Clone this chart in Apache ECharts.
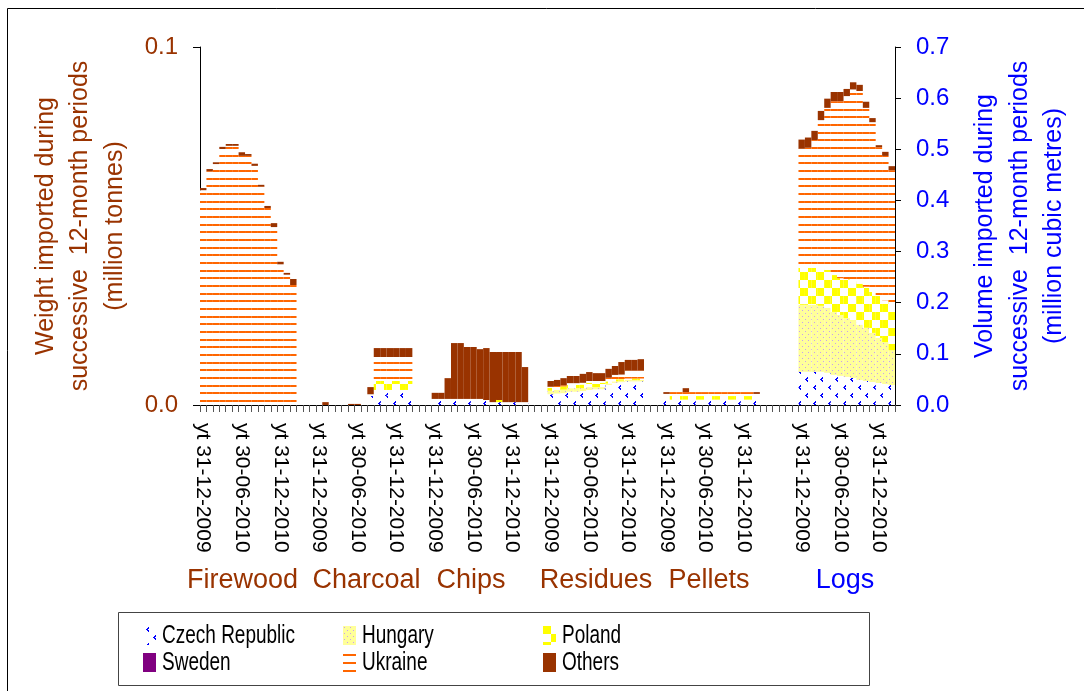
<!DOCTYPE html>
<html>
<head>
<meta charset="utf-8">
<title>Wood imports, successive 12-month periods</title>
<script src="https://cdn.jsdelivr.net/npm/echarts@6/dist/echarts.min.js"></script>
<style>
  html, body { margin: 0; padding: 0; background: #ffffff; }
  #chart { width: 1084px; height: 691px; }
</style>
</head>
<body>
<div id="chart"></div>
<script>
// ---- Categories -------------------------------------------------------
const products = ['Firewood', 'Charcoal', 'Chips', 'Residues', 'Pellets', 'Logs'];
const productUnit = ['weight', 'weight', 'weight', 'weight', 'weight', 'volume'];
const months = ['31-12-2009', '31-01-2010', '28-02-2010', '31-03-2010', '30-04-2010',
  '31-05-2010', '30-06-2010', '31-07-2010', '31-08-2010', '30-09-2010', '31-10-2010',
  '30-11-2010', '31-12-2010', '31-01-2011', '28-02-2011'];
const tickMonths = ['31-12-2009', '30-06-2010', '31-12-2010'];
const countries = ['Czech Republic', 'Hungary', 'Poland', 'Sweden', 'Ukraine', 'Others'];

// ---- Values: million tonnes (weight) / million m3 (Logs) ----------------
const firewoodUkraine = [0.0600, 0.0653, 0.0673, 0.0715, 0.0724, 0.0724, 0.0696, 0.0696, 0.0668, 0.0610, 0.0550, 0.0497, 0.0393, 0.0364, 0.0335];
const firewoodOthers  = [0.0006, 0.0006, 0.0005, 0.0006, 0.0005, 0.0005, 0.0010, 0.0005, 0.0006, 0.0005, 0.0006, 0.0011, 0.0007, 0.0005, 0.0017];

const charcoalCzech   = [0, 0, 0, 0, 0, 0, 0, 0, 0.0025, 0.0042, 0.0042, 0.0042, 0.0042, 0.0042, 0.0042];
const charcoalPoland  = [0, 0, 0, 0, 0, 0, 0, 0, 0, 0.0025, 0.0025, 0.0025, 0.0025, 0.0025, 0.0025];
const charcoalUkraine = [0, 0, 0, 0, 0, 0, 0, 0, 0.0005, 0.0067, 0.0067, 0.0067, 0.0067, 0.0067, 0.0067];
const charcoalOthers  = [0, 0.0008, 0, 0, 0, 0.0003, 0.0003, 0, 0.0020, 0.0025, 0.0025, 0.0025, 0.0025, 0.0025, 0.0025];

const chipsCzech  = [0.0017, 0.0017, 0.0017, 0.0017, 0.0017, 0.0017, 0.0017, 0.0017, 0.0014, 0.0008, 0.0008, 0.0008, 0.0008, 0.0008, 0.0008];
const chipsPoland = [0, 0, 0, 0, 0, 0, 0, 0, 0, 0, 0.0006, 0, 0, 0, 0];
const chipsOthers = [0.0017, 0.0017, 0.0058, 0.0156, 0.0156, 0.0145, 0.0145, 0.0139, 0.0145, 0.0140, 0.0134, 0.0140, 0.0140, 0.0140, 0.0098];

const residuesCzech   = [0.0030, 0.0032, 0.0033, 0.0037, 0.0037, 0.0039, 0.0042, 0.0044, 0.0044, 0.0056, 0.0062, 0.0064, 0.0066, 0.0066, 0.0066];
const residuesHungary = [0.0010, 0.0010, 0.0010, 0.0010, 0.0010, 0.0008, 0.0008, 0.0006, 0.0006, 0.0004, 0.0004, 0.0004, 0.0004, 0.0004, 0.0004];
const residuesPoland  = [0.0008, 0.0008, 0.0009, 0.0009, 0.0009, 0.0010, 0.0012, 0.0012, 0.0012, 0.0006, 0.0006, 0.0004, 0.0004, 0.0004, 0.0004];
const residuesUkraine = [0.0003, 0.0003, 0.0003, 0.0005, 0.0005, 0.0005, 0.0005, 0.0005, 0.0005, 0.0010, 0.0012, 0.0013, 0.0022, 0.0022, 0.0022];
const residuesOthers  = [0.0016, 0.0017, 0.0020, 0.0020, 0.0020, 0.0025, 0.0025, 0.0022, 0.0022, 0.0025, 0.0025, 0.0035, 0.0030, 0.0030, 0.0032];

const pelletsCzech   = [0.0031, 0.0015, 0.0015, 0.0015, 0.0015, 0.0015, 0.0015, 0.0015, 0.0015, 0.0015, 0.0015, 0.0015, 0.0015, 0.0015, 0.0015];
const pelletsPoland  = [0, 0.0010, 0.0010, 0.0010, 0.0010, 0.0010, 0.0010, 0.0010, 0.0010, 0.0010, 0.0010, 0.0010, 0.0010, 0.0010, 0.0008];
const pelletsUkraine = [0, 0.0011, 0.0011, 0.0011, 0.0011, 0.0011, 0.0011, 0.0011, 0.0011, 0.0011, 0.0011, 0.0011, 0.0011, 0.0011, 0.0008];
const pelletsOthers  = [0.0005, 0, 0, 0.0011, 0, 0, 0, 0, 0, 0, 0, 0, 0, 0, 0.0005];

const logsCzech   = [0.065, 0.065, 0.065, 0.065, 0.063, 0.059, 0.057, 0.055, 0.053, 0.049, 0.047, 0.045, 0.043, 0.041, 0.039];
const logsHungary = [0.131, 0.131, 0.131, 0.129, 0.127, 0.123, 0.119, 0.115, 0.113, 0.108, 0.104, 0.096, 0.088, 0.082, 0.068];
const logsPoland  = [0.072, 0.072, 0.072, 0.072, 0.074, 0.072, 0.072, 0.076, 0.076, 0.080, 0.080, 0.080, 0.082, 0.082, 0.090];
const logsUkraine = [0.233, 0.235, 0.250, 0.291, 0.317, 0.340, 0.346, 0.358, 0.375, 0.377, 0.350, 0.332, 0.291, 0.282, 0.262];
const logsOthers  = [0.018, 0.020, 0.018, 0.018, 0.018, 0.018, 0.018, 0.014, 0.014, 0.012, 0.012, 0.008, 0.004, 0.008, 0.008];

// product -> country -> 15 monthly values (countries not listed have none)
const table = {
  Firewood: { 'Ukraine': firewoodUkraine, 'Others': firewoodOthers },
  Charcoal: { 'Czech Republic': charcoalCzech, 'Poland': charcoalPoland, 'Ukraine': charcoalUkraine, 'Others': charcoalOthers },
  Chips:    { 'Czech Republic': chipsCzech, 'Poland': chipsPoland, 'Others': chipsOthers },
  Residues: { 'Czech Republic': residuesCzech, 'Hungary': residuesHungary, 'Poland': residuesPoland, 'Ukraine': residuesUkraine, 'Others': residuesOthers },
  Pellets:  { 'Czech Republic': pelletsCzech, 'Poland': pelletsPoland, 'Ukraine': pelletsUkraine, 'Others': pelletsOthers },
  Logs:     { 'Czech Republic': logsCzech, 'Hungary': logsHungary, 'Poland': logsPoland, 'Ukraine': logsUkraine, 'Others': logsOthers }
};

// empty category slots placed after each product block
const gapAfter = [3, 3, 3, 3, 6, 0];

// ---- Build the shared category axis -------------------------------------
const categories = [];
const tickLabels = [];
const slots = [];   // {product, month} or null for spacer slots
products.forEach((p, pi) => {
  months.forEach((m, mi) => {
    categories.push(p + ' ' + m);
    tickLabels.push(tickMonths.includes(m) ? 'yt ' + m : '');
    slots.push({ product: p, month: mi });
  });
  for (let g = 0; g < gapAfter[pi]; g++) {
    categories.push('spacer ' + pi + '-' + g);
    tickLabels.push('');
    slots.push(null);
  }
});

// ---- Fill patterns ------------------------------------------------------
function tile(w, h, bg, draw) {
  const c = document.createElement('canvas');
  c.width = w; c.height = h;
  const g = c.getContext('2d');
  g.fillStyle = bg; g.fillRect(0, 0, w, h);
  draw(g);
  return { image: c, repeat: 'repeat' };
}
const fills = {
  'Czech Republic': tile(15, 16, '#ffffff', g => {
    g.fillStyle = '#0000ff';
    const mark = (x, y) => {
      g.fillRect(x + 2, y, 1, 1); g.fillRect(x + 1, y + 1, 2, 1);
      g.fillRect(x, y + 2, 2, 1); g.fillRect(x + 1, y + 3, 2, 1); g.fillRect(x + 2, y + 4, 1, 1);
    };
    mark(3, 1); mark(10, 9);
  }),
  'Hungary': tile(6, 6, '#ffff99', g => {
    g.fillStyle = '#c8a0f0';
    g.fillRect(1, 1, 1, 1); g.fillRect(4, 4, 1, 1);
  }),
  'Poland': tile(16, 16, '#ffffff', g => {
    g.fillStyle = '#ffff00';
    g.fillRect(0, 0, 8, 8); g.fillRect(8, 8, 8, 8);
  }),
  'Sweden': '#800080',
  'Ukraine': tile(8, 23, '#ffffff', g => {
    g.fillStyle = '#ff6600';
    [1, 9, 17].forEach(y => g.fillRect(0, y, 8, 2));
  }),
  'Others': '#993300'
};

// ---- Series: one stack per value axis -----------------------------------
const units = ['weight', 'volume'];
const series = [];
units.forEach((unit, axisIndex) => {
  countries.forEach(c => {
    const data = slots.map(s => {
      if (!s) return null;
      const pi = products.indexOf(s.product);
      if (productUnit[pi] !== unit) return null;
      const arr = table[s.product][c];
      return arr ? arr[s.month] : null;
    });
    series.push({
      type: 'bar',
      name: c,
      stack: unit,
      yAxisIndex: axisIndex,
      data: data,
      barCategoryGap: '0%',
      barGap: '-100%',
      itemStyle: { color: fills[c], borderWidth: 0 },
      emphasis: { disabled: true }
    });
  });
});

const mainFont = "'Liberation Sans', Arial, sans-serif";
const brown = '#993300';
const blue = '#0000ff';

const groupLabels = [
  { text: 'Firewood', x: 242.5, color: brown },
  { text: 'Charcoal', x: 366.5, color: brown },
  { text: 'Chips', x: 471, color: brown },
  { text: 'Residues', x: 596, color: brown },
  { text: 'Pellets', x: 709, color: brown },
  { text: 'Logs', x: 845, color: blue }
];

// legend grid: three columns, two rows
const legendCols = [143, 343, 543];
const legendRows = [626, 653];

// one legend swatch per country; the condensed captions are drawn beside them
const legends = countries.map((c, i) => ({
  data: [c],
  left: legendCols[i % 3],
  top: legendRows[Math.floor(i / 3)],
  padding: 0,
  icon: 'rect', itemWidth: 13, itemHeight: 19,
  selectedMode: false,
  formatter: () => ''
}));
const legendCaptions = countries.map((c, i) => ({
  type: 'text', silent: true,
  x: legendCols[i % 3] + 19,
  y: legendRows[Math.floor(i / 3)] + 10,
  scaleX: 0.76,
  style: { text: c, fill: '#000', font: '25px ' + mainFont, align: 'left', verticalAlign: 'middle' }
}));

const chart = echarts.init(document.getElementById('chart'), null, { renderer: 'canvas' });
chart.setOption({
  animation: false,
  backgroundColor: '#ffffff',
  grid: { left: 200, right: 189, top: 47, bottom: 286, containLabel: false },
  xAxis: {
    type: 'category',
    data: categories,
    boundaryGap: true,
    axisLine: { show: true, lineStyle: { color: '#000', width: 1 } },
    axisTick: { show: true, interval: 0, length: 7, lineStyle: { color: '#555' } },
    axisLabel: {
      interval: (i) => tickLabels[i] !== '',
      formatter: (v, i) => tickLabels[i],
      rotate: -90, margin: 18,
      fontFamily: mainFont, fontSize: 21, color: '#000',
      hideOverlap: false
    },
    splitLine: { show: false }
  },
  yAxis: [
    {
      type: 'value', position: 'left', min: 0, max: 0.1, interval: 0.1,
      name: 'Weight imported during\nsuccessive  12-month periods\n(million tonnes)',
      nameLocation: 'middle', nameRotate: 90, nameGap: 68,
      nameTextStyle: { color: brown, fontFamily: mainFont, fontSize: 25, lineHeight: 34.5 },
      axisLine: { show: true, lineStyle: { color: '#000' } },
      axisTick: { show: true, length: 7, lineStyle: { color: '#000' } },
      axisLabel: { formatter: v => v.toFixed(1), color: brown, fontFamily: mainFont, fontSize: 24, margin: 22, padding: [6, 0, 0, 0] },
      splitLine: { show: false }
    },
    {
      type: 'value', position: 'right', min: 0, max: 0.7, interval: 0.1,
      name: 'Volume imported during\nsuccessive  12-month periods\n(million cubic metres)',
      nameLocation: 'middle', nameRotate: 90, nameGap: 73,
      nameTextStyle: { color: blue, fontFamily: mainFont, fontSize: 25, lineHeight: 34.5 },
      axisLine: { show: true, lineStyle: { color: '#000' } },
      axisTick: { show: true, length: 6, lineStyle: { color: '#000' } },
      axisLabel: { formatter: v => v.toFixed(1), color: blue, fontFamily: mainFont, fontSize: 24, margin: 21, padding: [6, 0, 0, 0] },
      splitLine: { show: false }
    }
  ],
  legend: legends,
  tooltip: { show: false },
  graphic: [
    { type: 'rect', silent: true, z: -10, shape: { x: 7.5, y: 8.5, width: 1100, height: 700 },
      style: { fill: 'none', stroke: '#000', lineWidth: 1 } },
    { type: 'rect', silent: true, z: -10, shape: { x: 118.5, y: 612.5, width: 751, height: 73 },
      style: { fill: 'none', stroke: '#444', lineWidth: 1 } }
  ].concat(groupLabels.map(g => ({
    type: 'text', silent: true, x: g.x, y: 581,
    style: { text: g.text, fill: g.color, font: '27px ' + mainFont, align: 'center', verticalAlign: 'middle' }
  }))).concat(legendCaptions),
  series: series
});
</script>
</body>
</html>
